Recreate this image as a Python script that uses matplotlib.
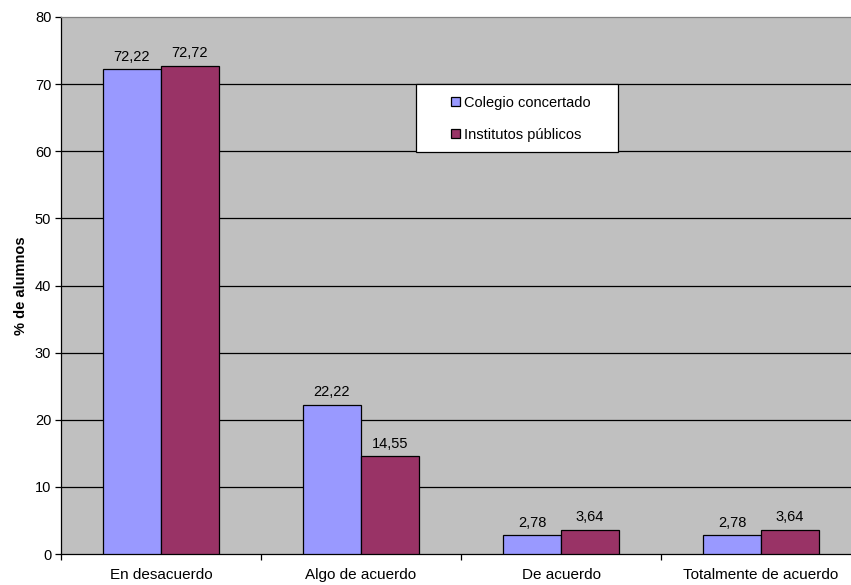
import matplotlib
matplotlib.use("Agg")
import matplotlib.pyplot as plt
from matplotlib.patches import Rectangle
import numpy as np

categories = ["En desacuerdo", "Algo de acuerdo", "De acuerdo", "Totalmente de acuerdo"]
series_names = ["Colegio concertado", "Institutos públicos"]
concertado = [72.22, 22.22, 2.78, 2.78]
publicos = [72.72, 14.55, 3.64, 3.64]
yticks = [0, 10, 20, 30, 40, 50, 60, 70, 80]

colors = ["#9999FF", "#993366"]

plt.rcParams["font.family"] = ["Liberation Sans", "DejaVu Sans"]
FS = 10.5

W, H = 851, 585
fig = plt.figure(figsize=(W / 100, H / 100), dpi=100)
fig.patch.set_facecolor("white")
ax = fig.add_axes([61 / W, 1 - 554 / H, 800 / W, 537 / H])
ax.set_facecolor("#C0C0C0")

x = np.arange(len(categories))
w = 0.29
vals = [concertado, publicos]
for i, (name, v, c) in enumerate(zip(series_names, vals, colors)):
    pos = x + (i - 0.5) * w
    bars = ax.bar(pos, v, width=w, color=c, edgecolor="black", linewidth=0.9,
                  label=name, zorder=3)
    for b, val in zip(bars, v):
        ax.text(b.get_x() + b.get_width() / 2, val + 0.8,
                f"{val:.2f}".replace(".", ","), ha="center", va="bottom",
                fontsize=FS, zorder=4)

ax.set_xlim(-0.5, len(categories) - 0.5)
ax.set_ylim(0, 80)
ax.set_yticks(yticks)
ax.set_yticklabels([str(t) for t in yticks], fontsize=FS)
for t in yticks[1:-1]:
    ax.axhline(t, color="black", linewidth=0.9, zorder=1)

# category labels centred, tick marks at category boundaries
ax.set_xticks(x)
ax.set_xticklabels(categories, fontsize=FS + 0.5)
ax.tick_params(axis="x", length=0, pad=10)
ax.set_xticks(np.arange(-0.5, len(categories) + 0.5, 1.0), minor=True)
ax.tick_params(axis="x", which="minor", length=4, width=0.9, direction="out")
ax.tick_params(axis="y", length=4, width=0.9, direction="out", pad=3)

ax.spines["right"].set_visible(False)
ax.spines["top"].set_color("#808080")
ax.spines["top"].set_linewidth(0.9)
for s in ["left", "bottom"]:
    ax.spines[s].set_linewidth(0.9)

ax.set_ylabel("% de alumnos", fontsize=FS, fontweight="bold", labelpad=5)

# legend box
fig.patches.append(Rectangle((416 / W, 1 - 152 / H), 202 / W, 68 / H,
                             transform=fig.transFigure, facecolor="white",
                             edgecolor="black", linewidth=0.9, zorder=5))
leg = fig.legend(loc="upper left", bbox_to_anchor=(451 / W, 1 - 96 / H),
                 frameon=False, fontsize=FS,
                 handlelength=0.6, handleheight=0.6, handletextpad=0.3,
                 labelspacing=1.2, borderpad=0, borderaxespad=0)
leg.set_zorder(6)

fig.savefig("out.png", dpi=100)
